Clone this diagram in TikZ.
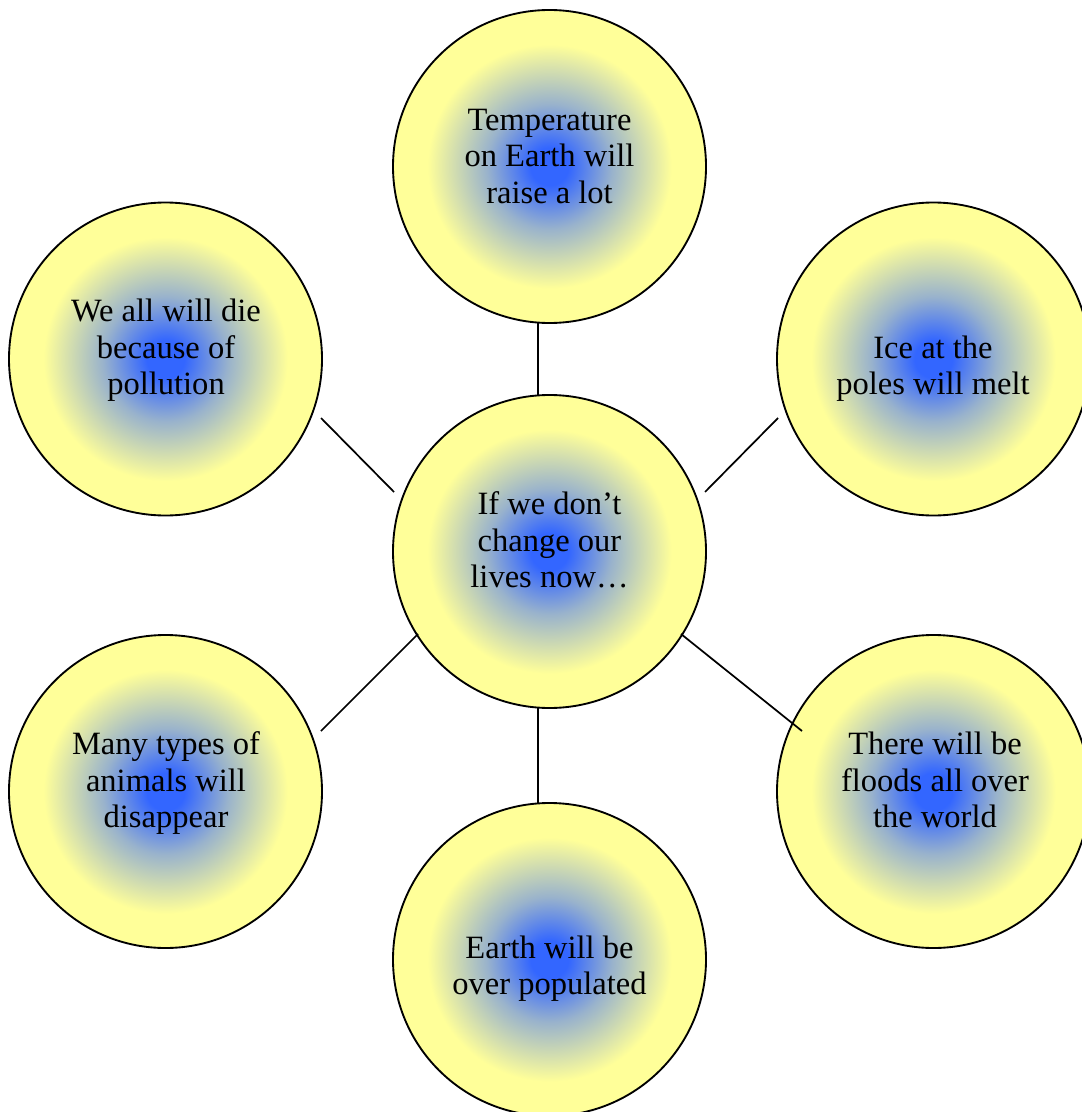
\documentclass[tikz,border=0pt]{standalone}
\usepackage{fontspec}
\setmainfont{Liberation Serif}
\definecolor{bblue}{RGB}{51,102,255}
\definecolor{byellow}{RGB}{255,255,153}
\colorlet{bmid}{bblue!50!byellow}
\pgfdeclareradialshading{bubbleshade}{\pgfpoint{0bp}{0bp}}{color(0bp)=(bblue); color(3bp)=(bblue); color(10bp)=(bmid); color(19.5bp)=(byellow); color(25bp)=(byellow); color(50bp)=(byellow)}
\tikzset{
  bubble/.style={circle, draw=black, line width=1.4pt, shade, shading=bubbleshade,
    minimum size=234.75pt, inner sep=0pt},
  bubbletext/.style={align=center, font=\fontsize{24.4}{27.375}\selectfont, inner sep=0pt},
  link/.style={draw=black, line width=1.3pt},
}
\begin{document}
\begin{tikzpicture}[x=0.75pt,y=-0.75pt]
\path[use as bounding box, fill=white] (0,0) rectangle (1081,1112);

% bubbles
\node[bubble] (C)  at (549.5,551.5) {};
\node[bubble] (T)  at (549.5,166.5) {};
\node[bubble] (TL) at (165.5,359) {};
\node[bubble] (TR) at (933.5,359) {};
\node[bubble] (BL) at (165.5,791.5) {};
\node[bubble] (BR) at (933.5,791.5) {};
\node[bubble] (B)  at (549.5,959.5) {};

% texts
\node[bubbletext] (Ct)  at (549.5,543.7) {\strut If we don’t\\\strut change our\\\strut lives now…};
\node[bubbletext] (Tt)  at (549.5,159.7) {\strut Temperature\\\strut on Earth will\\\strut raise a lot};
\node[bubbletext] (TLt) at (166,350.7) {\strut We all will die\\\strut because of\\\strut pollution};
\node[bubbletext] (TRt) at (933,369) {\strut Ice at the\\\strut poles will melt};
\node[bubbletext] (BLt) at (166,783.7) {\strut Many types of\\\strut animals will\\\strut disappear};
\node[bubbletext] (BRt) at (935,783.7) {\strut There will be\\\strut floods all over\\\strut the world};
\node[bubbletext] (Bt)  at (549.5,969) {\strut Earth will be\\\strut over populated};

% connector end points
\coordinate (T1) at (537.7,323);  \coordinate (T2) at (537.7,395);
\coordinate (B1) at (537.7,707);  \coordinate (B2) at (537.7,803);
\coordinate (TL1) at (321,418);   \coordinate (TL2) at (394,492);
\coordinate (TR1) at (778,418);   \coordinate (TR2) at (705,492);
\coordinate (BL1) at (418,634);   \coordinate (BL2) at (321,731);
\coordinate (BR1) at (681,634);   \coordinate (BR2) at (802,731);

\draw[link] (T1) -- (T2);
\draw[link] (B1) -- (B2);
\draw[link] (TL1) -- (TL2);
\draw[link] (TR1) -- (TR2);
\draw[link] (BL1) -- (BL2);
\draw[link] (BR1) -- (BR2);
\end{tikzpicture}
\end{document}
